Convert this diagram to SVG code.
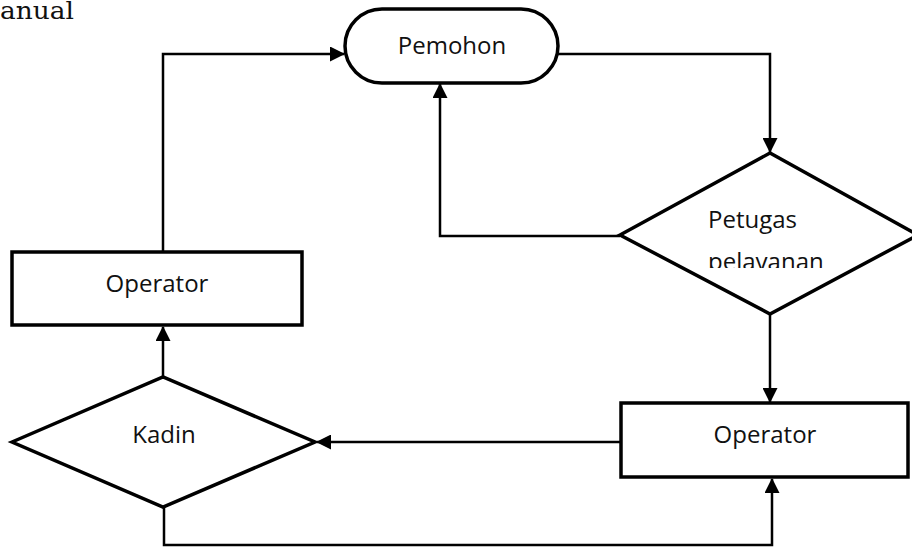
<svg xmlns="http://www.w3.org/2000/svg" width="912" height="550" viewBox="0 0 912 550">
<style>
.node{fill:#fff;stroke:#000;stroke-width:3.5}
.lbl{font-family:"Open Sans","Noto Sans",sans-serif;font-size:24px;fill:#111}
.con{fill:none;stroke:#000;stroke-width:2.5}
.title{font-family:"DejaVu Serif","Liberation Serif",serif;font-size:24px;fill:#111}
</style>
<defs>
<marker id="arr" markerUnits="userSpaceOnUse" markerWidth="15" markerHeight="15" viewBox="0 0 15 15" refX="14" refY="7.5" orient="auto">
<path d="M0,0 L15,7.5 L0,15 z" fill="#000"/>
</marker>
<clipPath id="clipPet"><rect x="600" y="140" width="320" height="128"/></clipPath>
</defs>
<rect width="912" height="550" fill="#fff"/>
<text class="title" x="0" y="19" textLength="74" lengthAdjust="spacingAndGlyphs">anual</text>
<g id="connectors">
<path class="con" d="M558,54 H770 V152" marker-end="url(#arr)"/>
<path class="con" d="M620,236 H440 V84" marker-end="url(#arr)"/>
<path class="con" d="M770,314 V402" marker-end="url(#arr)"/>
<path class="con" d="M621,442 H317" marker-end="url(#arr)"/>
<path class="con" d="M164,507 V545 H772 V479" marker-end="url(#arr)"/>
<path class="con" d="M163,377 V327" marker-end="url(#arr)"/>
<path class="con" d="M163,252 V54 H344" marker-end="url(#arr)"/>
</g>
<g id="pemohon">
<rect class="node" x="345" y="9" width="213" height="74" rx="37"/>
<text class="lbl" x="452" y="54" text-anchor="middle" font-size="22">Pemohon</text>
</g>
<g id="petugas">
<polygon class="node" points="620,235 770,153 918,235 770,314"/>
<g clip-path="url(#clipPet)">
<text class="lbl" x="708" y="228">Petugas</text>
<text class="lbl" x="708" y="270">pelayanan</text>
</g>
</g>
<g id="operator-right">
<rect class="node" x="621" y="403" width="287" height="74"/>
<text class="lbl" x="765" y="443" text-anchor="middle">Operator</text>
</g>
<g id="kadin">
<polygon class="node" points="12,442 163,377 315,442 163,507"/>
<text class="lbl" x="164" y="443" text-anchor="middle">Kadin</text>
</g>
<g id="operator-left">
<rect class="node" x="12" y="252" width="290" height="73"/>
<text class="lbl" x="157" y="292" text-anchor="middle">Operator</text>
</g>
</svg>
